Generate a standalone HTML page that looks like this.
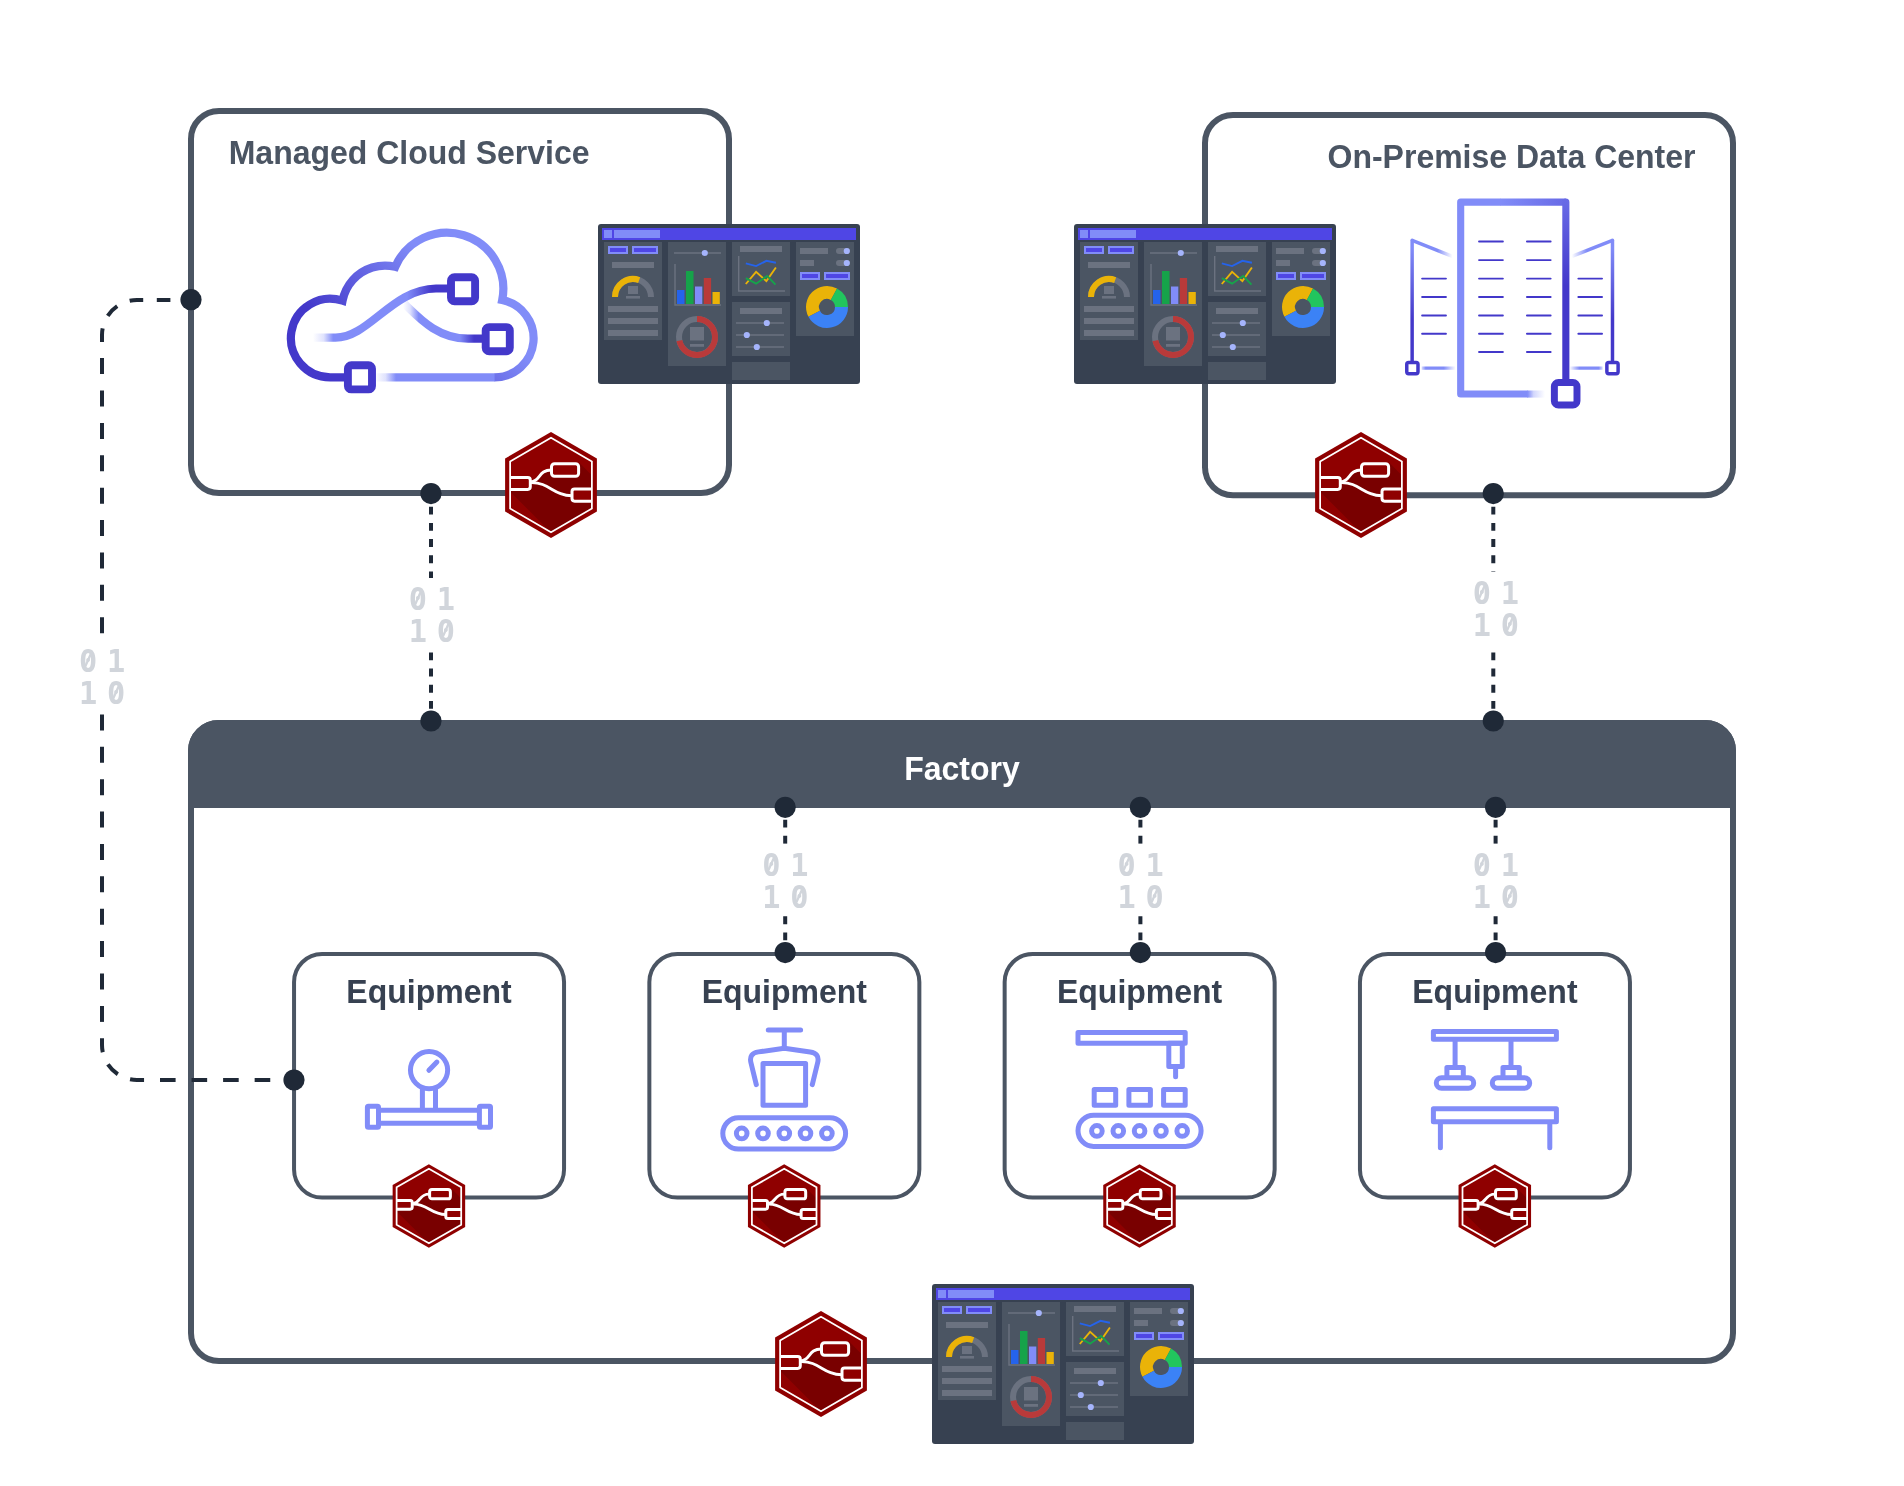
<!DOCTYPE html>
<html lang="en">
<head>
<meta charset="utf-8">
<title>Factory Architecture Diagram</title>
<style>
html,body{margin:0;padding:0;background:#fff;}
body{width:1904px;height:1486px;overflow:hidden;}
svg{display:block;will-change:transform;}
.t{font-family:"Liberation Sans",Arial,Helvetica,sans-serif;font-weight:700;}
.m{font-family:"DejaVu Sans Mono","Liberation Mono",monospace;font-weight:700;font-size:32.6px;fill:#d1d5db;text-anchor:middle;}
</style>
</head>
<body>
<svg width="1904" height="1486" viewBox="0 0 1904 1486">
<rect width="1904" height="1486" fill="#ffffff"/>
<!-- ===== container boxes ===== -->
<g fill="none" stroke="#4b5563" stroke-width="6">
  <rect x="191" y="111" width="538" height="382" rx="28" ry="28"/>
  <rect x="1205" y="115" width="528" height="380.3" rx="28" ry="28"/>
</g>
<!-- factory -->
<rect x="191" y="723" width="1542" height="638" rx="28" ry="28" fill="#ffffff" stroke="#4b5563" stroke-width="6"/>
<path d="M188 808 V750.5 A30.5 30.5 0 0 1 218.500 720 H1705.500 A30.5 30.5 0 0 1 1736 750.5 V808 Z" fill="#4b5563"/>
<text transform="translate(962 780) scale(1 1.03)" class="t" font-size="32" fill="#ffffff" text-anchor="middle">Factory</text>
<text transform="translate(228.700 164) scale(1 1.03)" class="t" font-size="32" fill="#4b5563">Managed Cloud Service</text>
<text transform="translate(1695.500 168) scale(1 1.03)" class="t" font-size="32" fill="#4b5563" text-anchor="end">On-Premise Data Center</text>
<!-- equipment boxes -->
<g fill="#ffffff" stroke="#4b5563" stroke-width="4">
  <rect x="294.05" y="954.050" width="270" height="243.500" rx="28" ry="28"/>
  <rect x="649.35" y="954.050" width="270" height="243.500" rx="28" ry="28"/>
  <rect x="1004.65" y="954.050" width="270" height="243.500" rx="28" ry="28"/>
  <rect x="1359.95" y="954.050" width="270" height="243.500" rx="28" ry="28"/>
</g>
<g class="t" font-size="32" fill="#374151" text-anchor="middle">
  <text transform="translate(429 1003) scale(1 1.03)">Equipment</text>
  <text transform="translate(784.300 1003) scale(1 1.03)">Equipment</text>
  <text transform="translate(1139.600 1003) scale(1 1.03)">Equipment</text>
  <text transform="translate(1494.900 1003) scale(1 1.03)">Equipment</text>
</g>
<!-- ===== connectors ===== -->
<g fill="none" stroke="#1f2937" stroke-width="4">
  <!-- long dashed link cloud -> equipment 1 -->
  <path d="M191 300 H137 A35 35 0 0 0 102 335 V342" stroke-dasharray="13.600 13.600" stroke-dashoffset="6.600"/>
  <path d="M102 342 V1030" stroke-dasharray="16 16.390" stroke-dashoffset="-16.100"/>
  <path d="M102 1038.300 V1045 A35 35 0 0 0 137 1080 H144" stroke-dasharray="14 13.300"/>
  <path d="M144 1080 H294" stroke-dasharray="15.600 15.950" stroke-dashoffset="-16"/>
  <!-- dotted links -->
  <path d="M431 490.500 V721" stroke-dasharray="7.900 8.290"/>
  <path d="M1493.300 490.500 V721" stroke-dasharray="7.900 8.290"/>
  <path d="M785.200 803.600 V952" stroke-dasharray="7.900 8.200"/>
  <path d="M1140.400 803.600 V952" stroke-dasharray="7.900 8.200"/>
  <path d="M1495.600 803.600 V952" stroke-dasharray="7.900 8.200"/>
</g>
<!-- white label backgrounds -->
<g fill="#ffffff">
  <rect x="396" y="578" width="72" height="72.500"/>
  <rect x="1458" y="572" width="72" height="79.500"/>
  <rect x="750" y="843.800" width="72" height="71.500"/>
  <rect x="1105" y="843.800" width="72" height="71.500"/>
  <rect x="1460" y="843.800" width="72" height="71.500"/>
  <rect x="66" y="640" width="72" height="72"/>
</g>
<!--LABELS-->
<g class="m">
<text transform="translate(88 672.4) scale(0.93 1)" x="0" y="0">0</text>
<text transform="translate(116 672.4) scale(0.93 1)" x="0" y="0">1</text>
<text transform="translate(88 704.4) scale(0.93 1)" x="0" y="0">1</text>
<text transform="translate(116 704.4) scale(0.93 1)" x="0" y="0">0</text>
<text transform="translate(417.9 610.3) scale(0.93 1)" x="0" y="0">0</text>
<text transform="translate(445.9 610.3) scale(0.93 1)" x="0" y="0">1</text>
<text transform="translate(417.9 641.9) scale(0.93 1)" x="0" y="0">1</text>
<text transform="translate(445.9 641.9) scale(0.93 1)" x="0" y="0">0</text>
<text transform="translate(1481.9 604) scale(0.93 1)" x="0" y="0">0</text>
<text transform="translate(1509.9 604) scale(0.93 1)" x="0" y="0">1</text>
<text transform="translate(1481.9 636) scale(0.93 1)" x="0" y="0">1</text>
<text transform="translate(1509.9 636) scale(0.93 1)" x="0" y="0">0</text>
<text transform="translate(771.4 875.6) scale(0.93 1)" x="0" y="0">0</text>
<text transform="translate(799.4 875.6) scale(0.93 1)" x="0" y="0">1</text>
<text transform="translate(771.4 907.6) scale(0.93 1)" x="0" y="0">1</text>
<text transform="translate(799.4 907.6) scale(0.93 1)" x="0" y="0">0</text>
<text transform="translate(1126.6 875.6) scale(0.93 1)" x="0" y="0">0</text>
<text transform="translate(1154.6 875.6) scale(0.93 1)" x="0" y="0">1</text>
<text transform="translate(1126.6 907.6) scale(0.93 1)" x="0" y="0">1</text>
<text transform="translate(1154.6 907.6) scale(0.93 1)" x="0" y="0">0</text>
<text transform="translate(1481.8 875.6) scale(0.93 1)" x="0" y="0">0</text>
<text transform="translate(1509.8 875.6) scale(0.93 1)" x="0" y="0">1</text>
<text transform="translate(1481.8 907.6) scale(0.93 1)" x="0" y="0">1</text>
<text transform="translate(1509.8 907.6) scale(0.93 1)" x="0" y="0">0</text>
</g>
<path d="M85.1 666.82 L90.9 653.82 M113.1 698.82 L118.9 685.82 M415 604.72 L420.8 591.72 M443 636.32 L448.8 623.32 M1479 598.42 L1484.8 585.42 M1507 630.42 L1512.8 617.42 M768.5 870.02 L774.3 857.02 M796.5 902.02 L802.3 889.02 M1123.7 870.02 L1129.5 857.02 M1151.7 902.02 L1157.5 889.02 M1478.9 870.02 L1484.7 857.02 M1506.9 902.02 L1512.7 889.02" stroke="#d1d5db" stroke-width="2.300" fill="none"/>
<!--/LABELS-->
<g fill="#1f2937">
  <circle cx="191" cy="299.700" r="10.600"/>
  <circle cx="294" cy="1080" r="10.600"/>
  <circle cx="431" cy="493.600" r="10.600"/>
  <circle cx="431" cy="721" r="10.600"/>
  <circle cx="1493.300" cy="493.600" r="10.600"/>
  <circle cx="1493.300" cy="721" r="10.600"/>
  <circle cx="785.200" cy="807.300" r="10.600"/>
  <circle cx="1140.400" cy="807.300" r="10.600"/>
  <circle cx="1495.600" cy="807.300" r="10.600"/>
  <circle cx="785.200" cy="952.600" r="10.600"/>
  <circle cx="1140.400" cy="952.600" r="10.600"/>
  <circle cx="1495.600" cy="952.600" r="10.600"/>
</g>
<!-- ===== data center icon ===== -->
<defs>
<linearGradient id="bg1" gradientUnits="userSpaceOnUse" x1="870" y1="0" x2="980" y2="0"><stop offset="0" stop-color="#818cf8"/><stop offset="0.35" stop-color="#818cf8" stop-opacity="0.350"/><stop offset="1" stop-color="#818cf8" stop-opacity="0"/></linearGradient>
<linearGradient id="bg2" gradientUnits="userSpaceOnUse" x1="700" y1="0" x2="1112" y2="0"><stop offset="0" stop-color="#818cf8"/><stop offset="1" stop-color="#686ae6"/></linearGradient>
<linearGradient id="bg3" gradientUnits="userSpaceOnUse" x1="0" y1="108" x2="0" y2="640"><stop offset="0" stop-color="#686ae6"/><stop offset="1" stop-color="#4338ca"/></linearGradient>
<linearGradient id="bg4" gradientUnits="userSpaceOnUse" x1="0" y1="400" x2="0" y2="850"><stop offset="0" stop-color="#818cf8"/><stop offset="1" stop-color="#4338ca"/></linearGradient>
<linearGradient id="bg5" gradientUnits="userSpaceOnUse" x1="300" y1="0" x2="395" y2="0"><stop offset="0" stop-color="#818cf8"/><stop offset="1" stop-color="#818cf8" stop-opacity="0"/></linearGradient>
<linearGradient id="bg6" gradientUnits="userSpaceOnUse" x1="1150" y1="0" x2="1245" y2="0"><stop offset="0" stop-color="#818cf8" stop-opacity="0"/><stop offset="1" stop-color="#818cf8"/></linearGradient>
<linearGradient id="bg7" gradientUnits="userSpaceOnUse" x1="200" y1="0" x2="415" y2="0"><stop offset="0" stop-color="#818cf8" stop-opacity="0.300"/><stop offset="0.12" stop-color="#818cf8"/><stop offset="0.65" stop-color="#818cf8"/><stop offset="1" stop-color="#818cf8" stop-opacity="0"/></linearGradient>
<linearGradient id="bg8" gradientUnits="userSpaceOnUse" x1="1135" y1="0" x2="1345" y2="0"><stop offset="0" stop-color="#818cf8" stop-opacity="0"/><stop offset="0.3" stop-color="#818cf8"/><stop offset="0.88" stop-color="#818cf8"/><stop offset="1" stop-color="#818cf8" stop-opacity="0.300"/></linearGradient>
</defs>
<g transform="translate(1390 185) scale(0.15813)" fill="none">
<g stroke-width="45">
<path d="M980 1322 H868" stroke="url(#bg1)"/>
<path d="M872 1322 H447 V108 H702" stroke="#818cf8" stroke-linejoin="round"/>
<path d="M700 108 H1112" stroke="url(#bg2)"/>
<path d="M1112 108 V1250" stroke="url(#bg3)" stroke-linecap="round"/>
</g>
<g stroke-width="22">
<path d="M140 350 V1115" stroke="url(#bg4)" stroke-linecap="round"/><path d="M1407 350 V1115" stroke="url(#bg4)" stroke-linecap="round"/>
<path d="M140 350 L395 452" stroke="url(#bg5)"/><path d="M1407 350 L1150 452" stroke="url(#bg6)"/>
<path d="M200 1158 H415" stroke="url(#bg7)"/><path d="M1135 1158 H1345" stroke="url(#bg8)"/>
</g>
<path d="M563 357 H714 M866 357 H1016 M563 475 H714 M866 475 H1016 M563 592 H714 M866 592 H1016 M563 708 H714 M866 708 H1016 M563 825 H714 M866 825 H1016 M563 941 H714 M866 941 H1016 M563 1056 H714 M866 1056 H1016 M203 592 H354 M1191 592 H1341 M203 708 H354 M1191 708 H1341 M203 825 H354 M1191 825 H1341 M203 941 H354 M1191 941 H1341" stroke="#4338ca" stroke-width="12" stroke-linecap="round"/>
<g stroke="#4338ca" fill="#ffffff"><rect x="1039.500" y="1248.500" width="143" height="143" rx="26" stroke-width="44"/><rect x="106" y="1122" width="71" height="71" rx="12" stroke-width="22"/><rect x="1371.500" y="1122" width="71" height="71" rx="12" stroke-width="22"/></g>
</g>
<!-- ===== equipment icons ===== -->
<g fill="none" stroke="#818cf8" stroke-width="5" stroke-linejoin="round">
<circle cx="429.050" cy="1070.100" r="18.600"/>
<path d="M428.900 1070.300 L436.900 1062.100" stroke-linecap="round"/>
<path d="M422.400 1088 V1110.300 M435.500 1088 V1110.300 M378.500 1110.300 H479.400 M378.500 1123.200 H479.400"/>
<rect x="367.400" y="1106.300" width="11.100" height="21" rx="1"/><rect x="479.400" y="1106.300" width="11.100" height="21" rx="1"/>
<path d="M768.300 1030 H800.600 M784.300 1030 V1048" stroke-linecap="round"/>
<path d="M756.300 1084.600 L750.900 1062.500 Q748.800 1053.300 758.500 1051.900 L784.300 1048.300 L810.100 1051.900 Q819.800 1053.300 817.700 1062.500 L812.300 1084.600" stroke-linecap="round"/>
<rect x="763" y="1063.600" width="42.600" height="41.600"/>
<rect x="722.800" y="1117.800" width="122.800" height="31.200" rx="15.600"/>
<g stroke-width="5"><circle cx="741.700" cy="1133.400" r="5.300"/><circle cx="763" cy="1133.400" r="5.300"/><circle cx="784.300" cy="1133.400" r="5.300"/><circle cx="805.500" cy="1133.400" r="5.300"/><circle cx="826.900" cy="1133.400" r="5.300"/></g>
<rect x="1078" y="1032.500" width="107.200" height="10.800"/>
<rect x="1168.800" y="1043.300" width="13.500" height="23.100"/>
<path d="M1175.600 1066.400 V1076.700" stroke-linecap="round"/>
<rect x="1094.200" y="1089.500" width="21.500" height="15.700"/><rect x="1128.900" y="1089.500" width="21.500" height="15.700"/><rect x="1163.600" y="1089.500" width="21.600" height="15.700"/>
<rect x="1078" y="1115.200" width="123.100" height="31.200" rx="15.600"/>
<g stroke-width="5"><circle cx="1096.900" cy="1130.900" r="5.300"/><circle cx="1118.300" cy="1130.900" r="5.300"/><circle cx="1139.600" cy="1130.900" r="5.300"/><circle cx="1161" cy="1130.900" r="5.300"/><circle cx="1182.200" cy="1130.900" r="5.300"/></g>
<rect x="1433.400" y="1031.500" width="123" height="7.800"/>
<path d="M1455.100 1039.300 V1067.400 M1511 1039.300 V1067.400"/>
<path d="M1446.900 1077.700 V1067.500 H1463.300 V1077.700 M1503 1077.700 V1067.500 H1519.300 V1077.700"/>
<rect x="1436.300" y="1077.700" width="37.400" height="10.600" rx="5.300"/><rect x="1492.300" y="1077.700" width="37.400" height="10.600" rx="5.300"/>
<rect x="1433.400" y="1108.700" width="123" height="13"/>
<path d="M1440.400 1124 V1147.700 M1549.800 1124 V1147.700" stroke-linecap="round"/>
</g>
<!-- ===== cloud icon ===== -->
<defs>
<linearGradient id="cg1" gradientUnits="userSpaceOnUse" x1="330" y1="330" x2="415" y2="245"><stop offset="0" stop-color="#4338ca"/><stop offset="1" stop-color="#818cf8"/></linearGradient>
<linearGradient id="cg2" gradientUnits="userSpaceOnUse" x1="375" y1="0" x2="396" y2="0"><stop offset="0" stop-color="#818cf8" stop-opacity="0"/><stop offset="0.5" stop-color="#818cf8" stop-opacity="0.250"/><stop offset="1" stop-color="#818cf8"/></linearGradient>
<linearGradient id="cg3" gradientUnits="userSpaceOnUse" x1="313" y1="0" x2="432" y2="0"><stop offset="0" stop-color="#818cf8" stop-opacity="0"/><stop offset="0.09" stop-color="#818cf8" stop-opacity="0.250"/><stop offset="0.17" stop-color="#818cf8"/><stop offset="0.79" stop-color="#818cf8"/><stop offset="1" stop-color="#4338ca"/></linearGradient>
<linearGradient id="cg4" gradientUnits="userSpaceOnUse" x1="403" y1="0" x2="474" y2="0"><stop offset="0" stop-color="#818cf8" stop-opacity="0"/><stop offset="0.1" stop-color="#818cf8" stop-opacity="0.250"/><stop offset="0.22" stop-color="#818cf8"/><stop offset="0.8" stop-color="#818cf8"/><stop offset="1" stop-color="#4338ca"/></linearGradient>
</defs>
<g fill="none" stroke-width="8.200">
<path d="M495 377.3 H375" stroke="url(#cg2)"/>
<path d="M350 377.3 H330.2 A39.3 39.3 0 0 1 300.28 363.48 A39.3 39.3 0 0 1 291.4 331.74 A39.3 39.3 0 0 1 309.82 304.4 A39.3 39.3 0 0 1 342.57 300.7 A43.2 43.2 0 0 1 352.79 280.02 A43.2 43.2 0 0 1 372.19 267.54 A43.2 43.2 0 0 1 395.25 266.83 A56.3 56.3 0 0 1 423.4 237.88 A56.3 56.3 0 0 1 463.7 235.23 A56.3 56.3 0 0 1 495.4 260.24 A56.3 56.3 0 0 1 502.21 300.05 A39 39 0 0 1 525.92 315.07 A39 39 0 0 1 533.41 342.12 A39 39 0 0 1 520.79 367.2 A39 39 0 0 1 494.6 377.3" stroke="url(#cg1)" stroke-linejoin="miter" stroke-miterlimit="10"/>
<path d="M313 337.600 H335.500 C369 337.600 392 289 436 288.500 H450" stroke="url(#cg3)"/>
<path d="M404 303.500 C420 319 438 338.700 468 338.700 H485" stroke="url(#cg4)"/>
<g stroke="#4338ca" stroke-width="7.900" fill="#ffffff"><rect x="451" y="277.200" width="24.100" height="24.100" rx="3.500"/><rect x="485.700" y="327.100" width="24.100" height="24.100" rx="3.500"/><rect x="347.900" y="365.300" width="24.100" height="24.100" rx="3.500"/></g>
</g>
<!-- ===== dashboards ===== -->
<g transform="translate(598 224)">
<rect x="0" y="0" width="262" height="160" rx="3" fill="#374151"/>
<rect x="4" y="4" width="254" height="12" fill="#4f46e5"/>
<rect x="6" y="6" width="8" height="8" fill="#818cf8"/><rect x="16" y="6" width="46" height="8" fill="#818cf8"/>
<g fill="#4b5563"><rect x="6" y="18" width="58" height="98"/><rect x="70" y="18" width="58" height="124"/><rect x="134" y="18" width="58" height="54"/><rect x="134" y="78" width="58" height="54"/><rect x="134" y="138" width="58" height="18"/><rect x="198" y="18" width="58" height="94"/></g>
<g fill="#4f46e5" stroke="#818cf8" stroke-width="2"><rect x="11" y="23" width="18" height="6"/><rect x="35" y="23" width="24" height="6"/><rect x="203" y="49" width="18" height="6"/><rect x="227" y="49" width="24" height="6"/></g>
<g fill="#6b7280"><rect x="14" y="38" width="42" height="6"/><rect x="30" y="62" width="10" height="8"/><rect x="28" y="72" width="14" height="2.600"/><rect x="10" y="82" width="50" height="6"/><rect x="10" y="94" width="50" height="6"/><rect x="10" y="106" width="50" height="6"/>
<rect x="92" y="103" width="14" height="13.500"/><rect x="92" y="120" width="14" height="2.800"/>
<rect x="142" y="22" width="42" height="6"/><rect x="142" y="84" width="42" height="6"/>
<rect x="202" y="24" width="28" height="6"/><rect x="202" y="36" width="14" height="6"/><rect x="238" y="24" width="14" height="6" rx="3"/><rect x="238" y="36" width="14" height="6" rx="3"/></g>
<g fill="none" stroke-width="6"><path d="M17 73 A18 18 0 0 1 53 73" stroke="#6b7280"/><path d="M17 73 A18 18 0 0 1 41.16 56.09" stroke="#eab308"/></g>
<g stroke="#6b7280" stroke-width="1.600" fill="none"><path d="M76 29H123M138 99H186M138 111H186M138 123H186"/><path d="M77 40V81H123M140.700 32V67H187" stroke-width="1.400"/></g>
<g fill="#a5b4fc"><circle cx="106.800" cy="29" r="3.100"/><circle cx="168.800" cy="99" r="3.100"/><circle cx="148.800" cy="111" r="3.100"/><circle cx="158.800" cy="123" r="3.100"/><circle cx="248.800" cy="27" r="3.100"/><circle cx="248.800" cy="39" r="3.100"/></g>
<rect x="79" y="66" width="7.500" height="14" fill="#2563eb"/><rect x="88" y="47" width="7.500" height="33" fill="#16a34a"/><rect x="97" y="62.500" width="7.300" height="17.500" fill="#818cf8"/><rect x="105.800" y="54" width="7.300" height="26" fill="#b93a3a"/><rect x="114.500" y="68" width="7.300" height="12" fill="#eab308"/>
<g fill="none" stroke-width="6"><circle cx="99" cy="113" r="18" stroke="#6b7280"/><path d="M99 95 A18 18 0 1 1 81.39 116.74" stroke="#b93a3a"/></g>
<g fill="none" stroke-width="1.900" stroke-linejoin="miter"><path d="M147.800 39.400L158.100 42.100L168.400 36.800L177.900 38.700" stroke="#2563eb"/><path d="M147.800 60L158.100 47.900L168.400 57.100L177.900 43.500" stroke="#eab308"/><path d="M147.800 54.100L158.100 59.700L169.100 51.900L177.500 60.700" stroke="#16a34a"/></g>
<g fill="none" stroke-width="13"><path d="M216.2 89.81 A14.5 14.5 0 0 1 235.92 70.26" stroke="#eab308"/><path d="M243.5 83 A14.5 14.5 0 0 1 216.2 89.81" stroke="#3b82f6"/><path d="M235.92 70.26 A14.5 14.5 0 0 1 243.5 83" stroke="#22c55e"/></g>
</g>
<g transform="translate(1074 224)">
<rect x="0" y="0" width="262" height="160" rx="3" fill="#374151"/>
<rect x="4" y="4" width="254" height="12" fill="#4f46e5"/>
<rect x="6" y="6" width="8" height="8" fill="#818cf8"/><rect x="16" y="6" width="46" height="8" fill="#818cf8"/>
<g fill="#4b5563"><rect x="6" y="18" width="58" height="98"/><rect x="70" y="18" width="58" height="124"/><rect x="134" y="18" width="58" height="54"/><rect x="134" y="78" width="58" height="54"/><rect x="134" y="138" width="58" height="18"/><rect x="198" y="18" width="58" height="94"/></g>
<g fill="#4f46e5" stroke="#818cf8" stroke-width="2"><rect x="11" y="23" width="18" height="6"/><rect x="35" y="23" width="24" height="6"/><rect x="203" y="49" width="18" height="6"/><rect x="227" y="49" width="24" height="6"/></g>
<g fill="#6b7280"><rect x="14" y="38" width="42" height="6"/><rect x="30" y="62" width="10" height="8"/><rect x="28" y="72" width="14" height="2.600"/><rect x="10" y="82" width="50" height="6"/><rect x="10" y="94" width="50" height="6"/><rect x="10" y="106" width="50" height="6"/>
<rect x="92" y="103" width="14" height="13.500"/><rect x="92" y="120" width="14" height="2.800"/>
<rect x="142" y="22" width="42" height="6"/><rect x="142" y="84" width="42" height="6"/>
<rect x="202" y="24" width="28" height="6"/><rect x="202" y="36" width="14" height="6"/><rect x="238" y="24" width="14" height="6" rx="3"/><rect x="238" y="36" width="14" height="6" rx="3"/></g>
<g fill="none" stroke-width="6"><path d="M17 73 A18 18 0 0 1 53 73" stroke="#6b7280"/><path d="M17 73 A18 18 0 0 1 41.16 56.09" stroke="#eab308"/></g>
<g stroke="#6b7280" stroke-width="1.600" fill="none"><path d="M76 29H123M138 99H186M138 111H186M138 123H186"/><path d="M77 40V81H123M140.700 32V67H187" stroke-width="1.400"/></g>
<g fill="#a5b4fc"><circle cx="106.800" cy="29" r="3.100"/><circle cx="168.800" cy="99" r="3.100"/><circle cx="148.800" cy="111" r="3.100"/><circle cx="158.800" cy="123" r="3.100"/><circle cx="248.800" cy="27" r="3.100"/><circle cx="248.800" cy="39" r="3.100"/></g>
<rect x="79" y="66" width="7.500" height="14" fill="#2563eb"/><rect x="88" y="47" width="7.500" height="33" fill="#16a34a"/><rect x="97" y="62.500" width="7.300" height="17.500" fill="#818cf8"/><rect x="105.800" y="54" width="7.300" height="26" fill="#b93a3a"/><rect x="114.500" y="68" width="7.300" height="12" fill="#eab308"/>
<g fill="none" stroke-width="6"><circle cx="99" cy="113" r="18" stroke="#6b7280"/><path d="M99 95 A18 18 0 1 1 81.39 116.74" stroke="#b93a3a"/></g>
<g fill="none" stroke-width="1.900" stroke-linejoin="miter"><path d="M147.800 39.400L158.100 42.100L168.400 36.800L177.900 38.700" stroke="#2563eb"/><path d="M147.800 60L158.100 47.900L168.400 57.100L177.900 43.500" stroke="#eab308"/><path d="M147.800 54.100L158.100 59.700L169.100 51.900L177.500 60.700" stroke="#16a34a"/></g>
<g fill="none" stroke-width="13"><path d="M216.2 89.81 A14.5 14.5 0 0 1 235.92 70.26" stroke="#eab308"/><path d="M243.5 83 A14.5 14.5 0 0 1 216.2 89.81" stroke="#3b82f6"/><path d="M235.92 70.26 A14.5 14.5 0 0 1 243.5 83" stroke="#22c55e"/></g>
</g>
<g transform="translate(932 1284)">
<rect x="0" y="0" width="262" height="160" rx="3" fill="#374151"/>
<rect x="4" y="4" width="254" height="12" fill="#4f46e5"/>
<rect x="6" y="6" width="8" height="8" fill="#818cf8"/><rect x="16" y="6" width="46" height="8" fill="#818cf8"/>
<g fill="#4b5563"><rect x="6" y="18" width="58" height="98"/><rect x="70" y="18" width="58" height="124"/><rect x="134" y="18" width="58" height="54"/><rect x="134" y="78" width="58" height="54"/><rect x="134" y="138" width="58" height="18"/><rect x="198" y="18" width="58" height="94"/></g>
<g fill="#4f46e5" stroke="#818cf8" stroke-width="2"><rect x="11" y="23" width="18" height="6"/><rect x="35" y="23" width="24" height="6"/><rect x="203" y="49" width="18" height="6"/><rect x="227" y="49" width="24" height="6"/></g>
<g fill="#6b7280"><rect x="14" y="38" width="42" height="6"/><rect x="30" y="62" width="10" height="8"/><rect x="28" y="72" width="14" height="2.600"/><rect x="10" y="82" width="50" height="6"/><rect x="10" y="94" width="50" height="6"/><rect x="10" y="106" width="50" height="6"/>
<rect x="92" y="103" width="14" height="13.500"/><rect x="92" y="120" width="14" height="2.800"/>
<rect x="142" y="22" width="42" height="6"/><rect x="142" y="84" width="42" height="6"/>
<rect x="202" y="24" width="28" height="6"/><rect x="202" y="36" width="14" height="6"/><rect x="238" y="24" width="14" height="6" rx="3"/><rect x="238" y="36" width="14" height="6" rx="3"/></g>
<g fill="none" stroke-width="6"><path d="M17 73 A18 18 0 0 1 53 73" stroke="#6b7280"/><path d="M17 73 A18 18 0 0 1 41.16 56.09" stroke="#eab308"/></g>
<g stroke="#6b7280" stroke-width="1.600" fill="none"><path d="M76 29H123M138 99H186M138 111H186M138 123H186"/><path d="M77 40V81H123M140.700 32V67H187" stroke-width="1.400"/></g>
<g fill="#a5b4fc"><circle cx="106.800" cy="29" r="3.100"/><circle cx="168.800" cy="99" r="3.100"/><circle cx="148.800" cy="111" r="3.100"/><circle cx="158.800" cy="123" r="3.100"/><circle cx="248.800" cy="27" r="3.100"/><circle cx="248.800" cy="39" r="3.100"/></g>
<rect x="79" y="66" width="7.500" height="14" fill="#2563eb"/><rect x="88" y="47" width="7.500" height="33" fill="#16a34a"/><rect x="97" y="62.500" width="7.300" height="17.500" fill="#818cf8"/><rect x="105.800" y="54" width="7.300" height="26" fill="#b93a3a"/><rect x="114.500" y="68" width="7.300" height="12" fill="#eab308"/>
<g fill="none" stroke-width="6"><circle cx="99" cy="113" r="18" stroke="#6b7280"/><path d="M99 95 A18 18 0 1 1 81.39 116.74" stroke="#b93a3a"/></g>
<g fill="none" stroke-width="1.900" stroke-linejoin="miter"><path d="M147.800 39.400L158.100 42.100L168.400 36.800L177.900 38.700" stroke="#2563eb"/><path d="M147.800 60L158.100 47.900L168.400 57.100L177.900 43.500" stroke="#eab308"/><path d="M147.800 54.100L158.100 59.700L169.100 51.900L177.500 60.700" stroke="#16a34a"/></g>
<g fill="none" stroke-width="13"><path d="M216.2 89.81 A14.5 14.5 0 0 1 235.92 70.26" stroke="#eab308"/><path d="M243.5 83 A14.5 14.5 0 0 1 216.2 89.81" stroke="#3b82f6"/><path d="M235.92 70.26 A14.5 14.5 0 0 1 243.5 83" stroke="#22c55e"/></g>
</g>
<!-- ===== node-red hexagons ===== -->
<g transform="translate(551 485) scale(1)">
<clipPath id="hc1"><polygon points="0,-47.2 40.88,-23.6 40.88,23.6 0,47.2 -40.88,23.6 -40.88,-23.6"/></clipPath>
<polygon points="0,-53 45.9,-26.5 45.9,26.5 0,53 -45.9,26.5 -45.9,-26.5" fill="#8f0000"/>
<g clip-path="url(#hc1)">
<path d="M-46 1.500 L-46 -3 L-19.200 -3.700 C-10 -5 -10 -14.600 -0.600 -14.600 L0.260 -21.400 L29.100 -21.400 L89 38.500 L89 80 L32.500 80 Z" fill="#790000"/>
<g fill="none" stroke="#ffffff" stroke-width="2.9"><path d="M-20 -3 C-10 -4 -13 -15 0.500 -15"/><path d="M-20 -2.400 C-2 -2.900 3 10.800 21 10.800"/></g>
<g fill="#8f0000" stroke="#ffffff" stroke-width="3"><rect x="-59.8" y="-7.4" width="39.1" height="11.8" rx="2.6"/><rect x="0.5" y="-21.2" width="27.1" height="12.5" rx="3"/><rect x="21" y="4" width="39.8" height="12.2" rx="2.6"/></g>
</g>
<polygon points="0,-47.2 40.88,-23.6 40.88,23.6 0,47.2 -40.88,23.6 -40.88,-23.6" fill="none" stroke="#ffffff" stroke-width="1.75"/>
</g>
<g transform="translate(1361 485) scale(1)">
<clipPath id="hc2"><polygon points="0,-47.2 40.88,-23.6 40.88,23.6 0,47.2 -40.88,23.6 -40.88,-23.6"/></clipPath>
<polygon points="0,-53 45.9,-26.5 45.9,26.5 0,53 -45.9,26.5 -45.9,-26.5" fill="#8f0000"/>
<g clip-path="url(#hc2)">
<path d="M-46 1.500 L-46 -3 L-19.200 -3.700 C-10 -5 -10 -14.600 -0.600 -14.600 L0.260 -21.400 L29.100 -21.400 L89 38.500 L89 80 L32.500 80 Z" fill="#790000"/>
<g fill="none" stroke="#ffffff" stroke-width="2.9"><path d="M-20 -3 C-10 -4 -13 -15 0.500 -15"/><path d="M-20 -2.400 C-2 -2.900 3 10.800 21 10.800"/></g>
<g fill="#8f0000" stroke="#ffffff" stroke-width="3"><rect x="-59.8" y="-7.4" width="39.1" height="11.8" rx="2.6"/><rect x="0.5" y="-21.2" width="27.1" height="12.5" rx="3"/><rect x="21" y="4" width="39.8" height="12.2" rx="2.6"/></g>
</g>
<polygon points="0,-47.2 40.88,-23.6 40.88,23.6 0,47.2 -40.88,23.6 -40.88,-23.6" fill="none" stroke="#ffffff" stroke-width="1.75"/>
</g>
<g transform="translate(821 1364) scale(1)">
<clipPath id="hc3"><polygon points="0,-47.2 40.88,-23.6 40.88,23.6 0,47.2 -40.88,23.6 -40.88,-23.6"/></clipPath>
<polygon points="0,-53 45.9,-26.5 45.9,26.5 0,53 -45.9,26.5 -45.9,-26.5" fill="#8f0000"/>
<g clip-path="url(#hc3)">
<path d="M-46 1.500 L-46 -3 L-19.200 -3.700 C-10 -5 -10 -14.600 -0.600 -14.600 L0.260 -21.400 L29.100 -21.400 L89 38.500 L89 80 L32.500 80 Z" fill="#790000"/>
<g fill="none" stroke="#ffffff" stroke-width="2.9"><path d="M-20 -3 C-10 -4 -13 -15 0.500 -15"/><path d="M-20 -2.400 C-2 -2.900 3 10.800 21 10.800"/></g>
<g fill="#8f0000" stroke="#ffffff" stroke-width="3"><rect x="-59.8" y="-7.4" width="39.1" height="11.8" rx="2.6"/><rect x="0.5" y="-21.2" width="27.1" height="12.5" rx="3"/><rect x="21" y="4" width="39.8" height="12.2" rx="2.6"/></g>
</g>
<polygon points="0,-47.2 40.88,-23.6 40.88,23.6 0,47.2 -40.88,23.6 -40.88,-23.6" fill="none" stroke="#ffffff" stroke-width="1.75"/>
</g>
<g transform="translate(428.9 1206) scale(0.79)">
<clipPath id="hce0"><polygon points="0,-47.2 40.88,-23.6 40.88,23.6 0,47.2 -40.88,23.6 -40.88,-23.6"/></clipPath>
<polygon points="0,-53 45.9,-26.5 45.9,26.5 0,53 -45.9,26.5 -45.9,-26.5" fill="#8f0000"/>
<g clip-path="url(#hce0)">
<path d="M-46 1.500 L-46 -3 L-19.200 -3.700 C-10 -5 -10 -14.600 -0.600 -14.600 L0.260 -21.400 L29.100 -21.400 L89 38.500 L89 80 L32.500 80 Z" fill="#790000"/>
<g fill="none" stroke="#ffffff" stroke-width="3.67"><path d="M-20 -3 C-10 -4 -13 -15 0.500 -15"/><path d="M-20 -2.400 C-2 -2.900 3 10.800 21 10.800"/></g>
<g fill="#8f0000" stroke="#ffffff" stroke-width="3.8"><rect x="-59.4" y="-7" width="38.3" height="11" rx="2.6"/><rect x="0.9" y="-20.8" width="26.3" height="11.7" rx="3"/><rect x="21.4" y="4.4" width="39" height="11.4" rx="2.6"/></g>
</g>
<polygon points="0,-47.2 40.88,-23.6 40.88,23.6 0,47.2 -40.88,23.6 -40.88,-23.6" fill="none" stroke="#ffffff" stroke-width="2.22"/>
</g>
<g transform="translate(784.2 1206) scale(0.79)">
<clipPath id="hce1"><polygon points="0,-47.2 40.88,-23.6 40.88,23.6 0,47.2 -40.88,23.6 -40.88,-23.6"/></clipPath>
<polygon points="0,-53 45.9,-26.5 45.9,26.5 0,53 -45.9,26.5 -45.9,-26.5" fill="#8f0000"/>
<g clip-path="url(#hce1)">
<path d="M-46 1.500 L-46 -3 L-19.200 -3.700 C-10 -5 -10 -14.600 -0.600 -14.600 L0.260 -21.400 L29.100 -21.400 L89 38.500 L89 80 L32.500 80 Z" fill="#790000"/>
<g fill="none" stroke="#ffffff" stroke-width="3.67"><path d="M-20 -3 C-10 -4 -13 -15 0.500 -15"/><path d="M-20 -2.400 C-2 -2.900 3 10.800 21 10.800"/></g>
<g fill="#8f0000" stroke="#ffffff" stroke-width="3.8"><rect x="-59.4" y="-7" width="38.3" height="11" rx="2.6"/><rect x="0.9" y="-20.8" width="26.3" height="11.7" rx="3"/><rect x="21.4" y="4.4" width="39" height="11.4" rx="2.6"/></g>
</g>
<polygon points="0,-47.2 40.88,-23.6 40.88,23.6 0,47.2 -40.88,23.6 -40.88,-23.6" fill="none" stroke="#ffffff" stroke-width="2.22"/>
</g>
<g transform="translate(1139.5 1206) scale(0.79)">
<clipPath id="hce2"><polygon points="0,-47.2 40.88,-23.6 40.88,23.6 0,47.2 -40.88,23.6 -40.88,-23.6"/></clipPath>
<polygon points="0,-53 45.9,-26.5 45.9,26.5 0,53 -45.9,26.5 -45.9,-26.5" fill="#8f0000"/>
<g clip-path="url(#hce2)">
<path d="M-46 1.500 L-46 -3 L-19.200 -3.700 C-10 -5 -10 -14.600 -0.600 -14.600 L0.260 -21.400 L29.100 -21.400 L89 38.500 L89 80 L32.500 80 Z" fill="#790000"/>
<g fill="none" stroke="#ffffff" stroke-width="3.67"><path d="M-20 -3 C-10 -4 -13 -15 0.500 -15"/><path d="M-20 -2.400 C-2 -2.900 3 10.800 21 10.800"/></g>
<g fill="#8f0000" stroke="#ffffff" stroke-width="3.8"><rect x="-59.4" y="-7" width="38.3" height="11" rx="2.6"/><rect x="0.9" y="-20.8" width="26.3" height="11.7" rx="3"/><rect x="21.4" y="4.4" width="39" height="11.4" rx="2.6"/></g>
</g>
<polygon points="0,-47.2 40.88,-23.6 40.88,23.6 0,47.2 -40.88,23.6 -40.88,-23.6" fill="none" stroke="#ffffff" stroke-width="2.22"/>
</g>
<g transform="translate(1494.8 1206) scale(0.79)">
<clipPath id="hce3"><polygon points="0,-47.2 40.88,-23.6 40.88,23.6 0,47.2 -40.88,23.6 -40.88,-23.6"/></clipPath>
<polygon points="0,-53 45.9,-26.5 45.9,26.5 0,53 -45.9,26.5 -45.9,-26.5" fill="#8f0000"/>
<g clip-path="url(#hce3)">
<path d="M-46 1.500 L-46 -3 L-19.200 -3.700 C-10 -5 -10 -14.600 -0.600 -14.600 L0.260 -21.400 L29.100 -21.400 L89 38.500 L89 80 L32.500 80 Z" fill="#790000"/>
<g fill="none" stroke="#ffffff" stroke-width="3.67"><path d="M-20 -3 C-10 -4 -13 -15 0.500 -15"/><path d="M-20 -2.400 C-2 -2.900 3 10.800 21 10.800"/></g>
<g fill="#8f0000" stroke="#ffffff" stroke-width="3.8"><rect x="-59.4" y="-7" width="38.3" height="11" rx="2.6"/><rect x="0.9" y="-20.8" width="26.3" height="11.7" rx="3"/><rect x="21.4" y="4.4" width="39" height="11.4" rx="2.6"/></g>
</g>
<polygon points="0,-47.2 40.88,-23.6 40.88,23.6 0,47.2 -40.88,23.6 -40.88,-23.6" fill="none" stroke="#ffffff" stroke-width="2.22"/>
</g>
</svg>
</body>
</html>
